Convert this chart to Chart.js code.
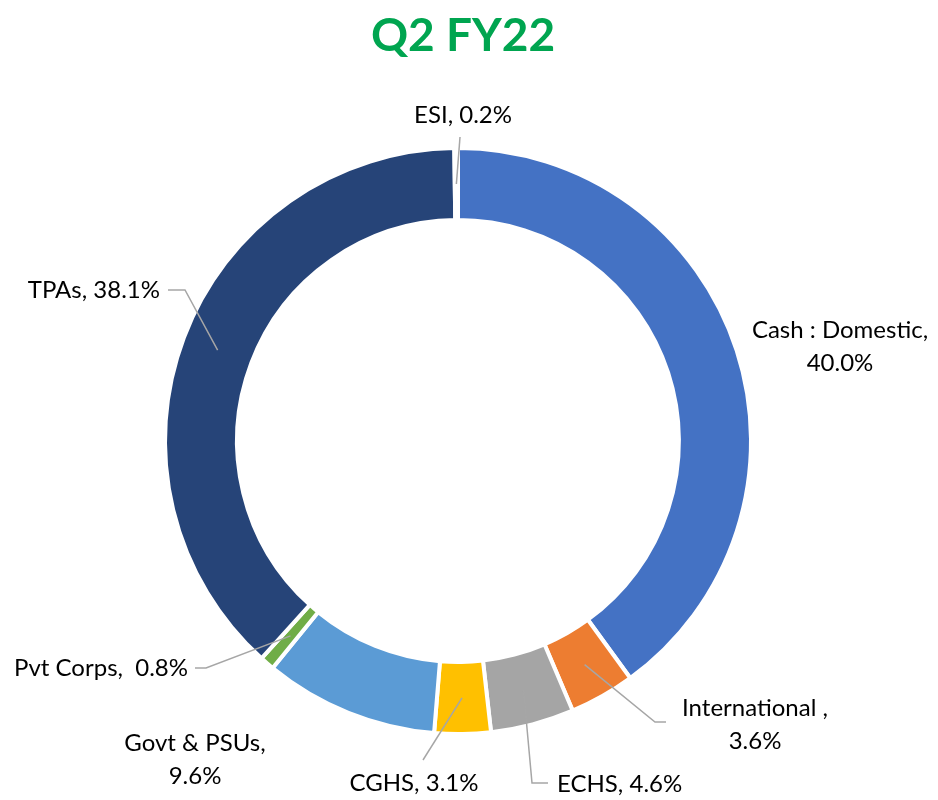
<!DOCTYPE html>
<html lang="en">
<head>
    <meta charset="UTF-8">
    <title>Q2 FY22</title>
    <script src="https://cdnjs.cloudflare.com/ajax/libs/Chart.js/4.4.1/chart.umd.min.js"></script>
    <style>
        body { margin: 0; background: #fff; }
    </style>
</head>
<body>
    <canvas id="chart" width="938" height="800"></canvas>
<script>
    var categories = ['Cash : Domestic', 'International', 'ECHS', 'CGHS', 'Govt & PSUs', 'Pvt Corps', 'TPAs', 'ESI'];
    var shares = [40.0, 3.6, 4.6, 3.1, 9.6, 0.8, 38.1, 0.2];
    var labelText = [
        ['Cash : Domestic,', '40.0%'],
        ['International ,', '3.6%'],
        ['ECHS, 4.6%'],
        ['CGHS, 3.1%'],
        ['Govt & PSUs,', '9.6%'],
        ['Pvt Corps,  0.8%'],
        ['TPAs, 38.1%'],
        ['ESI, 0.2%']
    ];
    var colors = ['#4472C4', '#ED7D31', '#A5A5A5', '#FFC000', '#5B9BD5', '#70AD47', '#264478', '#9E480E'];

    // where each label sits and how its leader line bends (page pixels)
    var labelLayout = [
        { x: 840, y: 330, align: 'center', leader: null },
        { x: 755, y: 708, align: 'center', leader: [[655, 722], [666, 722]] },
        { x: 557, y: 784, align: 'left', leader: [[532, 783], [548, 783]] },
        { x: 414, y: 783, align: 'center', leader: [[423, 760]] },
        { x: 195, y: 743, align: 'center', leader: null },
        { x: 188, y: 668, align: 'right', leader: [[206, 668], [195, 668]] },
        { x: 160, y: 290, align: 'right', leader: [[185, 290], [168, 290]] },
        { x: 463, y: 115, align: 'center', leader: [[460, 137]] }
    ];

    var labelPlugin = {
        id: 'sliceLabels',
        afterDraw: function (chart) {
            var ctx = chart.ctx;
            ctx.save();
            // title
            ctx.fillStyle = '#00A550';
            ctx.font = 'bold 46px Lato, "Open Sans", sans-serif';
            ctx.textAlign = 'center';
            ctx.textBaseline = 'middle';
            ctx.fillText('Q2 FY22', 463, 36);

            var arcs = chart.getDatasetMeta(0).data;
            ctx.font = '24px Lato, "Open Sans", sans-serif';
            arcs.forEach(function (arc, i) {
                var lay = labelLayout[i];
                if (lay.leader) {
                    var mid = (arc.startAngle + arc.endAngle) / 2;
                    var r = (arc.innerRadius + arc.outerRadius) / 2;
                    ctx.strokeStyle = '#A6A6A6';
                    ctx.lineWidth = 1.5;
                    ctx.beginPath();
                    ctx.moveTo(arc.x + Math.cos(mid) * r, arc.y + Math.sin(mid) * r);
                    lay.leader.forEach(function (p) { ctx.lineTo(p[0], p[1]); });
                    ctx.stroke();
                }
                ctx.fillStyle = '#000';
                ctx.textAlign = lay.align;
                labelText[i].forEach(function (line, k) {
                    ctx.fillText(line, lay.x, lay.y + k * 33);
                });
            });
            ctx.restore();
        }
    };

    var chart = new Chart(document.getElementById('chart'), {
        type: 'doughnut',
        data: {
            labels: categories,
            datasets: [{
                data: shares,
                backgroundColor: colors,
                borderColor: '#fff',
                borderWidth: 4
            }]
        },
        options: {
            responsive: false,
            animation: false,
            cutout: '75.4%',
            layout: { padding: { left: 163, right: 185, top: 146, bottom: 64 } },
            plugins: {
                legend: { display: false },
                tooltip: { enabled: false }
            }
        },
        plugins: [labelPlugin]
    });
</script>
</body>
</html>
